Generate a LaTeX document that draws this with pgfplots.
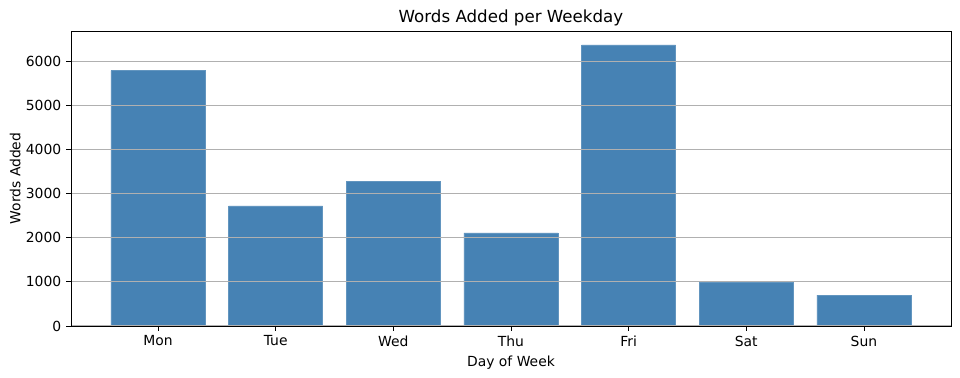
\documentclass[border=0pt]{standalone}
\usepackage{pgfplots}
\pgfplotsset{compat=1.18}
\usepackage{fontspec}
\setmainfont{DejaVu Sans}
\definecolor{steel}{HTML}{4682B4}
\definecolor{gridc}{HTML}{B0B0B0}
\begin{document}
\begin{tikzpicture}
\begin{axis}[
  scale only axis,
  width=633.6pt, height=212.4pt,
  xmin=-0.74, xmax=6.74,
  ymin=0, ymax=6688,
  xtick={0,1,2,3,4,5,6},
  xticklabels={Mon,Tue,Wed,Thu,Fri,Sat,Sun},
  ytick={0,1000,2000,3000,4000,5000,6000},
  scaled y ticks=false,
  /pgf/number format/assume math mode=true,
  yticklabel style={/pgf/number format/1000 sep={}},
  tick label style={font=\fontsize{10}{12}\selectfont},
  tick align=outside,
  tick pos=left,
  major tick length=3.5pt,
  every tick/.style={black, line width=0.6pt},
  axis line style={black, line width=0.6pt},
  ymajorgrids,
  grid style={gridc, line width=0.7pt},
  axis on top,
  title={Words Added per Weekday},
  title style={font=\fontsize{12}{14}\selectfont, yshift=-6pt},
  xlabel={Day of Week},
  ylabel={Words Added},
  label style={font=\fontsize{10}{12}\selectfont},
  xlabel style={yshift=0pt},
  ylabel style={yshift=-3pt},
]
\addplot[ybar, bar width=0.8, fill=steel, draw=steel!85!white, line width=0.5pt] coordinates {
  (0,5790) (1,2720) (2,3270) (3,2110) (4,6370) (5,990) (6,700)
};
\end{axis}
\pgfresetboundingbox
\useasboundingbox (-51.1pt,-37.4pt) rectangle (640.1pt,234.7pt);
\end{tikzpicture}
\end{document}
